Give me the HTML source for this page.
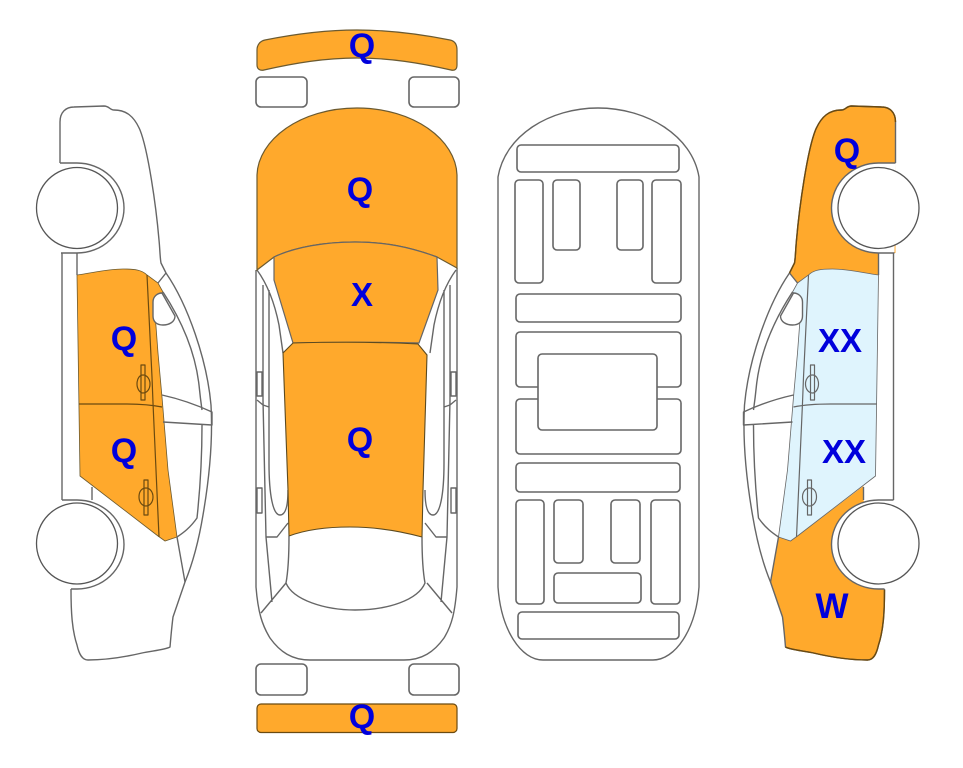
<!DOCTYPE html>
<html><head><meta charset="utf-8"><style>
html,body{margin:0;padding:0;background:#fff;width:963px;height:768px;overflow:hidden}
svg{display:block}
text{font-family:"Liberation Sans",sans-serif;font-weight:bold;font-size:34px;fill:#0000dc;text-anchor:middle}
.l{fill:none;stroke:#666;stroke-width:1.4;stroke-linejoin:round}
.r rect{fill:#fff;stroke:#666;stroke-width:1.6}
</style></head><body>
<svg width="963" height="768" viewBox="0 0 963 768" xmlns="http://www.w3.org/2000/svg">
<defs>
<path id="upper" d="M60 163V122C60 112 66 107 74 107L104 106C109 106 110 110 114 110C126 110 134 116 140 130C148 150 156 205 159 240C160 250 160 258 161 263L166 273L158 283L147 275C142 270 135 269 123 269C108 269 92 273 77 275V253H60Z"/>
<path id="lower" d="M92 486V500L71 588C71 612 72 630 77 645C79 654 82 660 88 660C105 660 125 657 142 653C150 651 165 650 170 647C171 635 172 625 173 617L185 582L177 537L165 541L158 536Z"/>
<path id="door" d="M77 275C92 273 108 269 123 269C135 269 142 270 147 275L158 283L163 292L154 300L158 353L162 397L168 470L177 537L165 541L158 536L80 476Z"/>
<g id="seams" fill="none" stroke-width="1.2" stroke-linejoin="round">
<path d="M147 275L152 377L153 403L159 537M79 404H125C140 404 152 405 162 407"/>
<path d="M141 365H145V400H141ZM137 384C137 378 140 375 143 375C147 375 150 379 150 384C150 389 147 393 143 393C140 393 137 389 137 384ZM144 480H148V515H144ZM139 497C139 491 142 488 146 488C150 488 153 492 153 497C153 502 150 506 146 506C142 506 139 502 139 497Z"/>
</g>
<g id="parts">
<path class="l" d="M60 163V122C60 112 66 107 74 107L104 106C109 106 110 110 114 110C126 110 134 116 140 130C148 150 156 205 159 240C160 250 160 258 161 263L166 273C188 305 207 360 211 405C213 440 209 480 203 515C198 545 192 565 185 582L173 617C172 625 171 635 170 647C165 650 150 651 142 653C125 657 105 660 88 660C82 660 79 654 77 645C72 630 71 612 71 589"/>
<path class="l" d="M158 283L166 273M163 292C180 318 195 350 199 385C200 395 201 403 202 410"/>
<path class="l" d="M162 395C180 399 197 405 212 412V425L163 422M202 425C202 455 200 490 197 518C190 528 183 533 177 537L185 582"/>
<path class="l" d="M62 253V500M92 487V500M77 253V275"/>
<path d="M60 163H77A47 45 0 0 1 77 253H61" fill="#fff" stroke="#666" stroke-width="1.4"/>
<path d="M62 500H77A47 44.500 0 0 1 77 589H71" fill="#fff" stroke="#666" stroke-width="1.4"/>
<circle cx="77" cy="208" r="40.500" fill="#fff" stroke="#555" stroke-width="1.3"/>
<circle cx="77" cy="543.500" r="40.500" fill="#fff" stroke="#555" stroke-width="1.3"/>
</g>
<path id="mirror" d="M162 293C158 293 153 296 153 302V316C153 322 157 325 163 325C169 325 175 322 175 316Z" fill="#fff" stroke="#666" stroke-width="1.4"/>
<g id="topl">
<path class="l" d="M257 270C268 285 275 305 279 325L283 353M263 285V400L266 537L272 602M269 290V463C269 495 273 515 280 515C285 515 288 508 288 490M257 400L263 405L269 407M266 537H277L288 523M286 583L261 613M257 372h5v24h-5zM257 488h5v25h-5z"/>
</g>
</defs>

<!-- left car -->
<use href="#door" fill="#ffa92c" stroke="#6b5a30" stroke-width=".8"/>
<use href="#parts"/>
<use href="#seams" stroke="#6b4a10"/>
<use href="#mirror"/>
<text x="124" y="350">Q</text>
<text x="124" y="462">Q</text>

<!-- top view -->
<g class="r">
<rect x="256" y="77" width="51" height="30" rx="5"/>
<rect x="409" y="77" width="50" height="30" rx="5"/>
<rect x="256" y="664" width="51" height="31" rx="5"/>
<rect x="409" y="664" width="50" height="31" rx="5"/>
</g>
<path d="M257 50C257 45 260 41 265 40C295 34 325 30 357 30C390 30 420 34 450 40C455 41 457 45 457 50V65C457 69 455 71 451 70C420 63 390 58 357 58C325 58 295 63 264 70C260 71 257 69 257 65Z" fill="#ffa92c" stroke="#6b5a30" stroke-width="1.2"/>
<rect x="257" y="704" width="200" height="28.500" rx="4" fill="#ffa92c" stroke="#6b4a10" stroke-width="1.2"/>
<path class="l" d="M256 270V587C258 612 262 625 270 638C280 652 292 660 310 660H404C422 660 434 652 444 638C452 625 455 612 457 587V268"/>
<use href="#topl"/>
<use href="#topl" transform="matrix(-1 0 0 1 713 0)"/>
<path d="M257 270V175C258 140 300 108 357 108C414 108 456 140 457 175V268L437 257C410 247 385 242 355 242C325 242 295 247 274 257Z" fill="#ffa92c" stroke="#6b5a30" stroke-width="1.2"/>
<path d="M274 257C295 247 325 242 355 242C385 242 410 247 437 257L438 290L419 343C380 342 330 342 293 343L274 280Z" fill="#ffa92c" stroke="#666" stroke-width="1.2"/>
<path d="M293 343L283 353L288 490L289 536C305 530 325 527 350 527C375 527 400 531 422 537L423 490L427 355L418 344C380 342 330 342 293 343Z" fill="#ffa92c" stroke="#5c4a20" stroke-width="1.1"/>
<path class="l" d="M289 536C289 555 288 572 286 583C293 600 325 610 355 610C388 610 418 600 425 583C423 572 422 555 422 537"/>
<text x="362" y="57">Q</text>
<text x="360" y="201">Q</text>
<text x="362" y="306" style="font-size:33px">X</text>
<text x="360" y="451">Q</text>
<text x="362" y="728">Q</text>

<!-- underbody -->
<path class="l" d="M498 177C505 135 550 108 598 108C646 108 692 135 699 177V587C696 630 675 660 653 660H543C521 660 501 630 498 587Z"/>
<g class="r">
<rect x="517" y="145" width="162" height="27" rx="4"/>
<rect x="515" y="180" width="28" height="103" rx="4"/>
<rect x="553" y="180" width="27" height="70" rx="4"/>
<rect x="617" y="180" width="26" height="70" rx="4"/>
<rect x="652" y="180" width="29" height="103" rx="4"/>
<rect x="516" y="294" width="165" height="28" rx="4"/>
<rect x="516" y="332" width="165" height="55" rx="4"/>
<rect x="516" y="399" width="165" height="55" rx="4"/>
<rect x="538" y="354" width="119" height="76" rx="4"/>
<rect x="516" y="463" width="164" height="29" rx="4"/>
<rect x="516" y="500" width="28" height="104" rx="4"/>
<rect x="554" y="500" width="29" height="63" rx="4"/>
<rect x="611" y="500" width="29" height="63" rx="4"/>
<rect x="651" y="500" width="29" height="104" rx="4"/>
<rect x="554" y="573" width="87" height="30" rx="4"/>
<rect x="518" y="612" width="161" height="27" rx="4"/>
</g>

<!-- right car -->
<g transform="matrix(-1 0 0 1 955.500 0)">
<use href="#upper" fill="#ffa92c"/>
<use href="#lower" fill="#ffa92c"/>
<use href="#door" fill="#dff4fd" stroke="#666" stroke-width=".8"/>
<use href="#parts"/>
<use href="#seams" stroke="#666"/>
<path d="M60 122C60 112 66 107 74 107L104 106C109 106 110 110 114 110C126 110 134 116 140 130C148 150 156 205 159 240C160 250 160 258 161 263L166 273" fill="none" stroke="#6b4a10" stroke-width="1.4"/>
<path d="M71 590C71 612 72 630 77 645C79 654 82 660 88 660C105 660 125 657 142 653C150 651 165 650 170 647" fill="none" stroke="#6b4a10" stroke-width="1.4"/>
<use href="#mirror"/>
</g>
<text x="847" y="162">Q</text>
<text x="840" y="352" style="font-size:33px">XX</text>
<text x="844" y="463" style="font-size:33px">XX</text>
<text x="832" y="618" style="font-size:35px">W</text>
</svg>
</body></html>
